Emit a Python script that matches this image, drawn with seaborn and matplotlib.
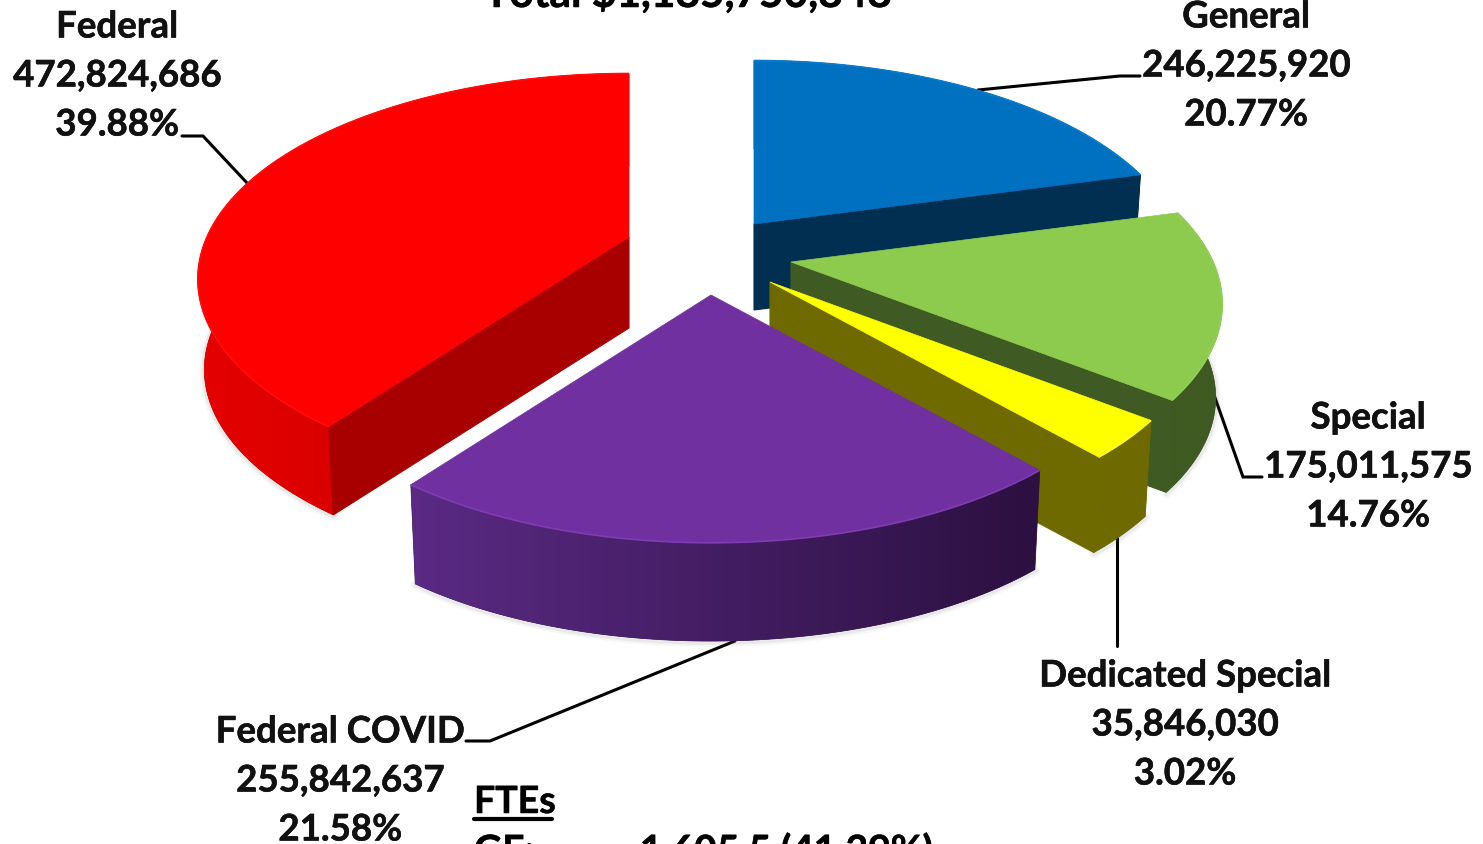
import numpy as np
import matplotlib
matplotlib.use("Agg")
import matplotlib.pyplot as plt
import matplotlib.patheffects as pe
from matplotlib.patches import Polygon
import seaborn as sns

# data, clockwise from 12 o'clock
funds = ["General", "Special", "Dedicated Special", "Federal COVID", "Federal"]
amounts = [246225920, 175011575, 35846030, 255842637, 472824686]
amount_labels = ["246,225,920", "175,011,575", "35,846,030", "255,842,637", "472,824,686"]
share_labels = ["20.77%", "14.76%", "3.02%", "21.58%", "39.88%"]
total_label = "Total $1,185,750,848"
fte_title = "FTEs"
fte_fund = "GF:"
fte_value = "1,605.5 (41.39%)"

# look of each slice
top_colors = ["#0070C0", "#8CCB4E", "#FFFF00", "#7030A0", "#FF0000"]
wall_colors = ["#002F52", "#3F5A22", "#6E6A00", "#2E1243", "#A80000"]
rim_left = ["#00304F", "#3F5A22", "#6E6A00", "#5A2A84", "#E40000"]
rim_right = ["#00304F", "#3F5A22", "#6E6A00", "#2C1040", "#C60000"]
edge_colors = ["#0A7CCC", "#90CF52", "#FFFF30", "#7F3CB4", "#FF0C0C"]
# where the exploded tip of each slice ends up, and how thick it is
tips = [(754, 225), (791, 263), (770, 283), (711, 296), (629, 238)]
depths = [86, 94, 98, 102, 91]
draw_order = [0, 4, 1, 2, 3]
label_pos = [(1246, 18), (1368, 419), (1185, 677), (340, 733), (117, 28)]
leaders = [
    [(978, 91), (1120, 77), (1140, 77)],
    [(1213, 393), (1243, 478), (1262, 478)],
    [(1117, 533), (1117, 647)],
    [(735, 642), (490, 742), (466, 742)],
    [(182, 137), (203, 137), (248, 185)],
]

# tilt of the pie
RX, RY, PERSP = 422, 197, 0.205
BOTTOM_SHRINK = 0.985

sns.set_theme(style="white")
plt.rcParams["font.family"] = ["Lato", "DejaVu Sans"]

fig = plt.figure(figsize=(14.83, 8.45), dpi=100)
ax = fig.add_axes([0, 0, 1, 1])


def rim(theta):
    x, y = np.cos(theta), np.sin(theta)
    w = 1 + PERSP * y
    return RX * x / w, -RY * y / w


fractions = np.array(amounts) / sum(amounts)
ends = np.cumsum(fractions)
starts = ends - fractions

for n_slice, i in enumerate(draw_order):
    base = 1 + n_slice
    t0 = np.radians(90 - 360 * starts[i])
    t1 = np.radians(90 - 360 * ends[i])
    theta = np.linspace(t0, t1, 200)
    dx, dy = rim(theta)
    tx, ty = tips[i]
    d = depths[i]
    top_x, top_y = tx + dx, ty + dy
    low_x, low_y = tx + BOTTOM_SHRINK * dx, ty + d + BOTTOM_SHRINK * dy

    # soft shadow under the slice
    front = np.sin(theta) < 0
    if front.any():
        for lw, a in ((7, 0.06), (4, 0.10)):
            ax.plot(low_x[front], low_y[front] + 1, color="#777777", lw=lw, alpha=a,
                    solid_capstyle="round", zorder=base)

    # curved wall, shaded left to right
    shades = np.array(sns.blend_palette([rim_left[i], rim_right[i]], 256))[None, :, :]
    wall_poly = Polygon(np.c_[np.r_[top_x, low_x[::-1]], np.r_[top_y, low_y[::-1]]],
                        fc=rim_left[i], ec=rim_right[i], lw=0.5, zorder=base + 0.1)
    ax.add_patch(wall_poly)
    img = ax.imshow(shades, extent=[top_x.min(), top_x.max(), low_y.max(), top_y.min()],
                    aspect="auto", interpolation="bilinear", zorder=base + 0.2)
    img.set_clip_path(wall_poly)

    # straight walls, only the ones turned towards the viewer
    for k, normal in ((0, t0 + np.pi / 2), (-1, t1 - np.pi / 2)):
        if np.sin(normal) < -1e-6:
            ax.fill([tx, top_x[k], low_x[k], tx], [ty, top_y[k], low_y[k], ty + d],
                    color=wall_colors[i], lw=0.8, zorder=base + 0.3)

    # top face and a thin lit edge
    ax.fill(np.r_[tx, top_x], np.r_[ty, top_y], color=top_colors[i], lw=0.5, zorder=base + 0.4)
    ax.plot(top_x, top_y, color=edge_colors[i], lw=1.2, solid_capstyle="butt", zorder=base + 0.5)

ax.set_xlim(0, 1483)
ax.set_ylim(845, 0)
ax.set_aspect("auto")
ax.axis("off")

for pts in leaders:
    xs, ys = zip(*pts)
    ax.plot(xs, ys, color="black", lw=2.2, zorder=0.5, solid_joinstyle="miter")

heavy = [pe.withStroke(linewidth=0.4, foreground="#111111")]
LINE_GAP = 49
for i in range(len(funds)):
    x, y = label_pos[i]
    for n, s in enumerate([funds[i], amount_labels[i], share_labels[i]]):
        ax.text(x, y + n * LINE_GAP, s, ha="center", va="center", fontsize=26.4,
                fontweight="bold", color="#111111", path_effects=heavy, zorder=10)

ax.text(688, 8, total_label, ha="center", va="baseline", fontsize=30.5,
        fontweight="bold", color="black", path_effects=heavy, zorder=10)
ax.text(474, 814, fte_title, ha="left", va="baseline", fontsize=27,
        fontweight="bold", color="black", path_effects=heavy, zorder=10)
ax.plot([474, 552], [820, 820], color="black", lw=3, zorder=10)
ax.text(474, 864, fte_fund, ha="left", va="baseline", fontsize=28,
        fontweight="bold", color="black", path_effects=heavy, zorder=10)
ax.text(640, 864, fte_value, ha="left", va="baseline", fontsize=28,
        fontweight="bold", color="black", path_effects=heavy, zorder=10)

fig.savefig("out.png", dpi=100, facecolor="white")
